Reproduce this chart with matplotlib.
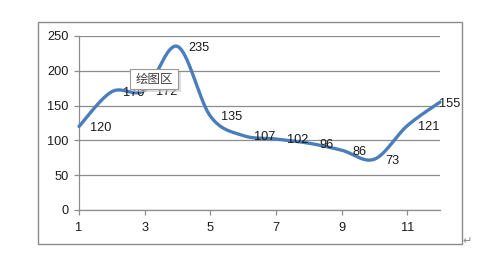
"""
Excel-style smoothed line chart with data labels and a "绘图区" tooltip.
Output saved as out.png (500x268).
"""
import numpy as np
import matplotlib
matplotlib.use("Agg")
import matplotlib.pyplot as plt
from matplotlib.patches import Rectangle

plt.rcParams["font.family"] = ["Liberation Sans", "Noto Sans CJK SC", "DejaVu Sans"]

x_vals   = [1, 2, 3, 4, 5, 6, 7, 8, 9, 10, 11, 12]
y_vals   = [120, 170, 172, 235, 135, 107, 102, 96, 86, 73, 121, 155]
x_ticks  = [1, 3, 5, 7, 9, 11]
y_ticks  = [0, 50, 100, 150, 200, 250]
tip_text = "绘图区"

LINE_COLOR = "#4A7EBB"
GRID_COLOR = "#8C8C8C"
TEXT_COLOR = "#1A1A1A"
FS         = 9.2
W, H, DPI  = 500, 268, 100


def _smooth(xs, ys, n=40):
    # Bezier smoothing similar to Excel's "smoothed line"
    p = np.column_stack([xs, ys]).astype(float)
    pts = []
    for i in range(len(p) - 1):
        p0 = p[i - 1] if i > 0 else p[i]
        p1, p2 = p[i], p[i + 1]
        p3 = p[i + 2] if i + 2 < len(p) else p[i + 1]
        c1 = p1 + (p2 - p0) / 6.0
        c2 = p2 - (p3 - p1) / 6.0
        t = np.linspace(0, 1, n)[:, None]
        seg = ((1 - t) ** 3) * p1 + 3 * ((1 - t) ** 2) * t * c1 \
            + 3 * (1 - t) * t ** 2 * c2 + t ** 3 * p2
        pts.append(seg if i == 0 else seg[1:])
    pts = np.vstack(pts)
    return pts[:, 0], pts[:, 1]


fig = plt.figure(figsize=(W / DPI, H / DPI), dpi=DPI)

# chart area border
fig.patches.append(Rectangle((38 / W, 1 - 244 / H), 424 / W, 222 / H,
                             transform=fig.transFigure, fill=False,
                             edgecolor="#8A8A8A", linewidth=1.0))

ax = fig.add_axes([79 / W, 1 - 210 / H, 361 / W, 174 / H])
ax.set_xlim(1, 12)
ax.set_ylim(0, 250)

ax.set_xticks(x_ticks)
ax.set_yticks(y_ticks)
ax.tick_params(axis="both", colors=GRID_COLOR, labelcolor=TEXT_COLOR,
               labelsize=FS, length=3.5, width=0.9, direction="out")
ax.tick_params(axis="x", pad=5)
ax.tick_params(axis="y", pad=4)

for side in ("top", "right"):
    ax.spines[side].set_visible(False)
for side in ("left", "bottom"):
    ax.spines[side].set_color(GRID_COLOR)
    ax.spines[side].set_linewidth(0.9)

ax.grid(axis="y", color=GRID_COLOR, linewidth=0.9)
ax.set_axisbelow(True)

sx, sy = _smooth(x_vals, y_vals)
ax.plot(sx, sy, color=LINE_COLOR, linewidth=2.4, solid_capstyle="round",
        clip_on=False, zorder=3)

for i, (xv, yv) in enumerate(zip(x_vals, y_vals)):
    # last label sits tight against the end of the line
    dx = -1 if i == len(x_vals) - 1 else 8
    ax.annotate(str(yv), (xv, yv), xytext=(dx, -1), textcoords="offset points",
                ha="left", va="center", fontsize=FS, color=TEXT_COLOR,
                zorder=4, annotation_clip=False)

# tooltip box with shadow
fig.patches.append(Rectangle((133 / W, 1 - 92 / H), 48 / W, 20 / H,
                             transform=fig.transFigure, facecolor="#C8C8C8",
                             edgecolor="none", alpha=0.6, zorder=5))
fig.patches.append(Rectangle((130 / W, 1 - 89 / H), 48 / W, 20 / H,
                             transform=fig.transFigure, facecolor="white",
                             edgecolor="#9A9A9A", linewidth=0.8, zorder=6))
fig.text(154 / W, 1 - 79 / H, tip_text, ha="center", va="center",
         fontsize=9, color="#404040", zorder=7,
         family=["Noto Sans CJK SC", "DejaVu Sans"])

# paragraph mark at bottom right
fig.text(467 / W, 1 - 241 / H, "↵", ha="center", va="center",
         fontsize=8, color="#8A8A8A", family=["DejaVu Sans"])

fig.savefig("out.png", dpi=DPI)
